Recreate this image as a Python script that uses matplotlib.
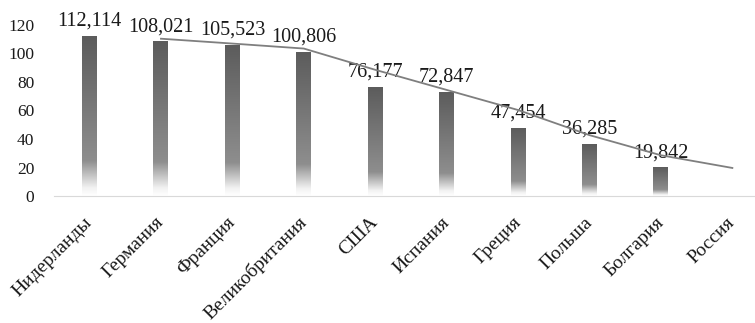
import numpy as np
import matplotlib.pyplot as plt
from matplotlib.colors import LinearSegmentedColormap

countries = ['Нидерланды', 'Германия', 'Франция', 'Великобритания', 'США',
             'Испания', 'Греция', 'Польша', 'Болгария', 'Россия']
values = [112.114, 108.021, 105.523, 100.806, 76.177, 72.847, 47.454, 36.285, 19.842, 0]
labels = ['112,114', '108,021', '105,523', '100,806', '76,177', '72,847',
          '47,454', '36,285', '19,842', '']
# trend line (starts at Германия)
trend = [110.3, 106.9, 103.4, 88.5, 74.4, 60.3, 42.7, 28.6, 19.7]

plt.rcParams['font.family'] = ['Liberation Serif', 'DejaVu Serif']

fig = plt.figure(figsize=(7.55, 3.23), dpi=100)
ax = fig.add_axes([0.0713, 0.393, 0.946, 0.530])

x = np.arange(len(countries))
w = 0.21
cmap = LinearSegmentedColormap.from_list('bar', [(0, '#ffffff'), (0.05, '#f2f2f2'),
                                                  (0.22, '#8e8e8e'), (1, '#5c5c5c')])
grad = np.linspace(0, 1, 256).reshape(-1, 1)
for xi, v, lab in zip(x, values, labels):
    if v <= 0:
        continue
    ax.imshow(grad, cmap=cmap, origin='lower', aspect='auto',
              extent=(xi - w / 2, xi + w / 2, 0, v), zorder=2)
    ax.annotate(lab, (xi, v), xytext=(0, 4), textcoords='offset points',
                ha='center', va='bottom', fontsize=14.5, color='#1a1a1a',
                annotation_clip=False)

ax.plot(x[1:], trend, color='#7f7f7f', lw=1.3, zorder=3)

ax.set_xlim(-0.5, len(countries) - 0.5)
ax.set_ylim(0, 120)
ax.set_yticks(range(0, 121, 20))
ax.tick_params(axis='y', length=0, labelsize=12.5, pad=14, colors='#1a1a1a')
ax.set_xticks(x)
ax.set_xticklabels(countries, rotation=45, ha='right', va='center',
                   rotation_mode='anchor', fontsize=14, color='#1a1a1a')
ax.tick_params(axis='x', length=0, pad=17)
for s in ['top', 'right', 'left']:
    ax.spines[s].set_visible(False)
ax.spines['bottom'].set_color('#d9d9d9')

fig.savefig('out.png', dpi=100)
